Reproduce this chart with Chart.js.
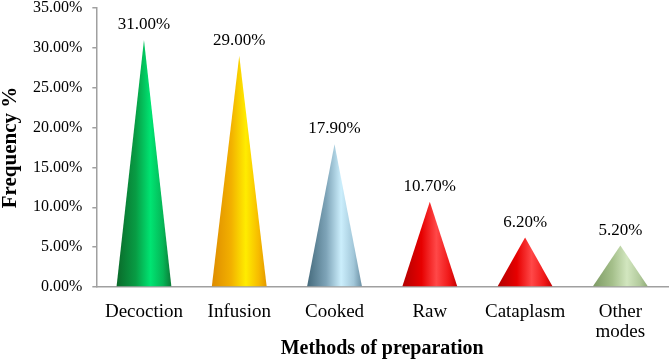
<!DOCTYPE html>
<html>
<head>
<meta charset="utf-8">
<script src="https://cdn.jsdelivr.net/npm/chart.js@4/dist/chart.umd.min.js"></script>
<style>
  html, body { margin: 0; padding: 0; background: #ffffff; }
  #wrap { width: 671px; height: 359px; position: relative; }
</style>
</head>
<body>
<div id="wrap"><canvas id="c"></canvas></div>
<script>
const categories = ["Decoction", "Infusion", "Cooked", "Raw", "Cataplasm", ["Other", "modes"]];
const frequencies = [31.0, 29.0, 17.9, 10.7, 6.2, 5.2];
const yTicks = [0, 5, 10, 15, 20, 25, 30, 35];
const coneGradients = [
  ["#0a6a2a", "#089c44", "#00e472", "#06b456", "#0b7a36"],
  ["#de8c00", "#f2b000", "#ffec00", "#f7bc00", "#e49a00"],
  ["#456a7c", "#7ea4b8", "#cbeefc", "#a2c7d9", "#6b90a4"],
  ["#b20000", "#e60000", "#ff4848", "#f01818", "#c40000"],
  ["#7d9a64", "#a4bf8a", "#d2e6bf", "#b3cb9d", "#8fab76"]
];
const coneColorIndex = [0, 1, 2, 3, 3, 4];
const gradStops = [0, 0.35, 0.62, 0.85, 1];

const serif = "'Liberation Serif', 'Times New Roman', serif";

const conePlugin = {
  id: 'cones',
  afterDatasetsDraw(chart) {
    const ctx = chart.ctx;
    const meta = chart.getDatasetMeta(0);
    meta.data.forEach((el, i) => {
      const p = el.getProps(['x', 'y', 'base', 'width'], true);
      const left = p.x - p.width / 2, right = p.x + p.width / 2;
      const g = ctx.createLinearGradient(left, 0, right, 0);
      const cols = coneGradients[coneColorIndex[i]];
      cols.forEach((c, k) => g.addColorStop(gradStops[k], c));
      ctx.save();
      ctx.beginPath();
      ctx.moveTo(left, p.base);
      ctx.lineTo(p.x, p.y);
      ctx.lineTo(right, p.base);
      ctx.closePath();
      ctx.fillStyle = g;
      ctx.fill();
      ctx.restore();
      ctx.save();
      ctx.font = "17px " + serif;
      ctx.fillStyle = "#000";
      ctx.textAlign = "center";
      ctx.textBaseline = "alphabetic";
      ctx.fillText(frequencies[i].toFixed(2) + "%", p.x, p.y - 11);
      ctx.restore();
    });
  }
};

new Chart(document.getElementById('c'), {
  type: 'bar',
  data: {
    labels: categories,
    datasets: [{
      data: frequencies,
      backgroundColor: 'rgba(0,0,0,0)',
      borderWidth: 0,
      categoryPercentage: 1.0,
      barPercentage: 0.575
    }]
  },
  options: {
    responsive: true,
    maintainAspectRatio: false,
    animation: false,
    events: [],
    layout: { padding: { top: 0, right: 3, left: 0, bottom: 0 } },
    plugins: {
      legend: { display: false },
      tooltip: { enabled: false }
    },
    scales: {
      x: {
        grid: { display: false, drawTicks: false },
        border: { display: true, color: '#a0a0a0', width: 1.5 },
        ticks: {
          color: '#000',
          font: { family: serif, size: 19, lineHeight: 1.05 },
          padding: 15,
          maxRotation: 0,
          autoSkip: false
        },
        title: {
          display: true,
          text: 'Methods of preparation',
          color: '#000',
          font: { family: serif, size: 20, weight: 'bold', lineHeight: 1 },
          padding: { top: 0, bottom: 0 }
        },
        afterFit(axis) { axis.height = 72; }
      },
      y: {
        min: 0,
        max: 35,
        afterBuildTicks(axis) { axis.ticks = yTicks.map(v => ({ value: v })); },
        grid: { drawOnChartArea: false, drawTicks: true, tickLength: 4, color: '#a0a0a0', lineWidth: 1.5 },
        border: { display: true, color: '#a0a0a0', width: 1.5 },
        ticks: {
          color: '#000',
          font: { family: serif, size: 16 },
          padding: 10,
          callback: v => v.toFixed(2) + '%'
        },
        title: {
          display: true,
          text: 'Frequency %',
          color: '#000',
          font: { family: serif, size: 21, weight: 'bold', lineHeight: 1 },
          padding: { top: 0, bottom: 2 }
        },
        afterFit(axis) { axis.paddingTop = 8; }
      }
    }
  },
  plugins: [conePlugin]
});
</script>
</body>
</html>
